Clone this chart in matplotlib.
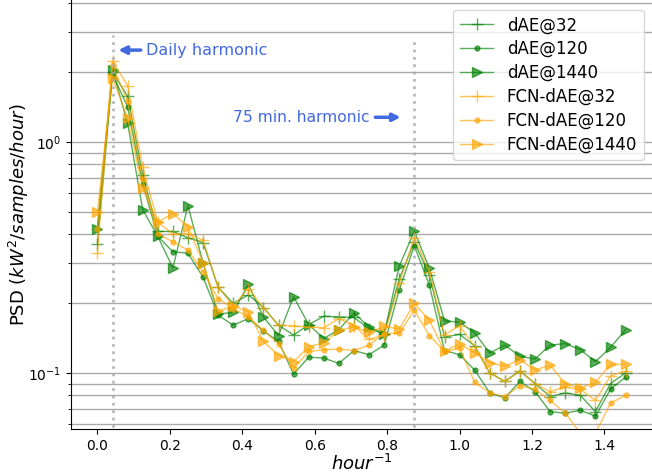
import numpy as np
import matplotlib
matplotlib.use("Agg")
import matplotlib.pyplot as plt

# frequency bins: k / 24 hour^-1
freqs = np.arange(36) / 24.0

dae_32 = [0.36, 2.0, 1.58, 0.72, 0.41, 0.41, 0.385, 0.367, 0.235, 0.20, 0.218, 0.192,
          0.161, 0.146, 0.162, 0.176, 0.175, 0.174, 0.155, 0.148, 0.255, 0.37, 0.265, 0.143,
          0.147, 0.131, 0.100, 0.092, 0.102, 0.090, 0.079, 0.082, 0.080, 0.068, 0.090, 0.100]
dae_120 = [0.42, 1.97, 1.42, 0.66, 0.39, 0.335, 0.33, 0.26, 0.178, 0.161, 0.172, 0.152,
           0.137, 0.099, 0.117, 0.116, 0.11, 0.125, 0.12, 0.132, 0.229, 0.355, 0.24, 0.125,
           0.12, 0.103, 0.082, 0.078, 0.092, 0.083, 0.068, 0.067, 0.069, 0.065, 0.085, 0.096]
dae_1440 = [0.42, 2.05, 1.21, 0.51, 0.39, 0.285, 0.53, 0.30, 0.18, 0.183, 0.242, 0.175,
            0.145, 0.214, 0.162, 0.141, 0.154, 0.182, 0.158, 0.148, 0.29, 0.41, 0.284, 0.168,
            0.166, 0.149, 0.122, 0.132, 0.118, 0.115, 0.132, 0.134, 0.126, 0.112, 0.129, 0.154]
fcn_32 = [0.33, 2.25, 1.75, 0.78, 0.45, 0.40, 0.40, 0.376, 0.235, 0.195, 0.232, 0.192,
          0.161, 0.16, 0.158, 0.157, 0.172, 0.16, 0.14, 0.146, 0.245, 0.385, 0.274, 0.146,
          0.16, 0.13, 0.100, 0.092, 0.102, 0.090, 0.083, 0.087, 0.085, 0.076, 0.097, 0.102]
fcn_120 = [0.42, 2.15, 1.5, 0.69, 0.40, 0.37, 0.34, 0.274, 0.21, 0.19, 0.175, 0.153,
           0.134, 0.105, 0.124, 0.126, 0.127, 0.125, 0.132, 0.148, 0.149, 0.187, 0.145, 0.124,
           0.128, 0.091, 0.082, 0.079, 0.088, 0.085, 0.076, 0.067, 0.055, 0.055, 0.074, 0.080]
fcn_1440 = [0.50, 1.9, 1.27, 0.63, 0.45, 0.49, 0.43, 0.30, 0.185, 0.195, 0.184, 0.137,
            0.119, 0.112, 0.13, 0.135, 0.153, 0.158, 0.15, 0.159, 0.155, 0.2, 0.169, 0.124,
            0.134, 0.122, 0.111, 0.107, 0.114, 0.103, 0.108, 0.090, 0.086, 0.091, 0.109, 0.109]

series = [
    ("dAE@32", dae_32, "green", "+"),
    ("dAE@120", dae_120, "green", "."),
    ("dAE@1440", dae_1440, "green", ">"),
    ("FCN-dAE@32", fcn_32, "orange", "+"),
    ("FCN-dAE@120", fcn_120, "orange", "."),
    ("FCN-dAE@1440", fcn_1440, "orange", ">"),
]
marker_sizes = {"+": 8, ".": 7, ">": 7}

fig = plt.figure(figsize=(6.52, 4.73), dpi=100)
ax = fig.add_axes([71 / 652, 44 / 473, 1 - 71 / 652, 1 - 44 / 473])

for label, vals, color, marker in series:
    ax.plot(freqs, vals, color=color, marker=marker, markersize=marker_sizes[marker],
            linewidth=1, alpha=0.65, label=label)

ax.set_yscale("log")
ax.set_ylim(0.0572, 4.12)

# harmonics
ax.vlines(1 / 24, 0.05, 2.9, colors="darkgray", linestyles=":", linewidth=2, alpha=0.8)
ax.vlines(21 / 24, 0.05, 2.76, colors="darkgray", linestyles=":", linewidth=2, alpha=0.8)

ax.annotate("Daily harmonic", xy=(0.05, 2.5), xytext=(0.135, 2.5), color="royalblue",
            fontsize=11.5, va="center",
            arrowprops=dict(arrowstyle="-|>", color="royalblue", lw=2.5))
ax.annotate("75 min. harmonic", xy=(0.845, 1.28), xytext=(0.752, 1.28), color="royalblue",
            fontsize=11.2, va="center", ha="right",
            arrowprops=dict(arrowstyle="-|>", color="royalblue", lw=2.5))

ax.grid(True, which="both", axis="y", color="#aaaaaa", linewidth=1)
ax.set_axisbelow(True)
ax.spines["top"].set_visible(False)
ax.spines["right"].set_visible(False)

ax.set_xlabel("$hour^{-1}$", fontsize=13, labelpad=1)
ax.set_ylabel("PSD ($kW^2/samples/hour$)", fontsize=13, labelpad=-2)
ax.legend(loc="upper right", fontsize=12, labelspacing=0.35,
          bbox_to_anchor=(1.0, 0.997))

fig.savefig("out.png", dpi=100)
